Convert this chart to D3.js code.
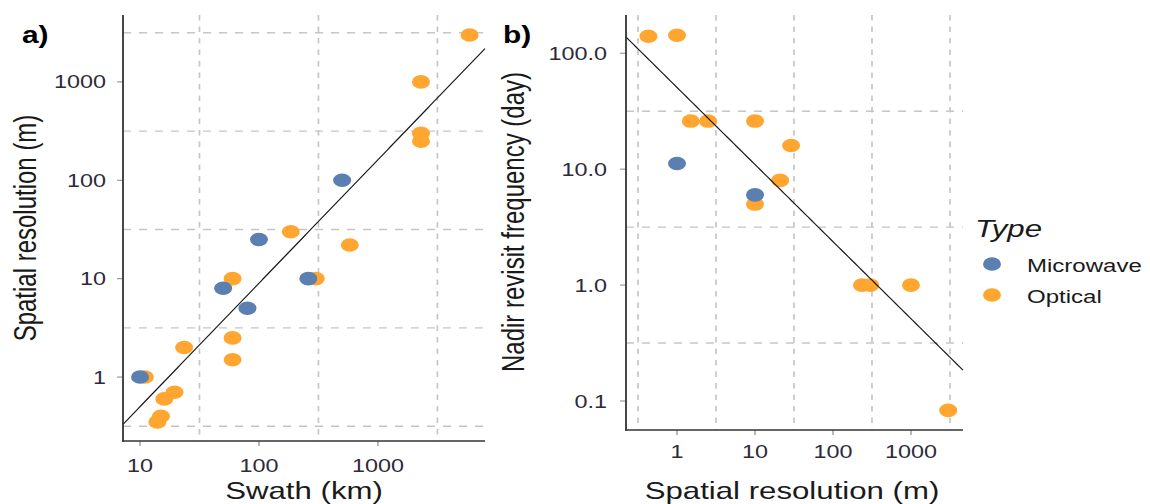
<!DOCTYPE html>
<html><head><meta charset="utf-8">
<script src="https://cdn.jsdelivr.net/npm/d3@7"></script>
<style>body{margin:0;background:#fff}svg{display:block}text{font-family:"Liberation Sans",Arial,sans-serif}</style>
</head><body><svg id="c" width="1150" height="504"></svg>
<script>
// ---- data ----
const types = ["Microwave", "Optical"];
const typeColors = ["#5a7fb0", "#ffa630"];
// panel a: swath (km) vs spatial resolution (m)
const swathA = [5900, 2300, 2300, 2300, 185, 580, 300, 60, 60, 60, 23.5, 11, 16, 19.5, 15, 14, 500, 100, 260, 50, 80, 10];
const resA   = [3000, 1000, 300, 250, 30, 22, 10, 10, 2.5, 1.5, 2, 1, 0.6, 0.7, 0.4, 0.35, 100, 25, 10, 8, 5, 1];
const typeA  = ["Optical","Optical","Optical","Optical","Optical","Optical","Optical","Optical","Optical","Optical","Optical","Optical","Optical","Optical","Optical","Optical","Microwave","Microwave","Microwave","Microwave","Microwave","Microwave"];
// panel b: spatial resolution (m) vs nadir revisit frequency (day)
const resB   = [0.43, 1, 1.5, 2.5, 10, 29, 21, 10, 235, 300, 1000, 3000, 1, 10];
const revB   = [140, 143, 26, 26, 26, 16, 8, 5, 1, 1, 1, 0.083, 11.2, 6];
const typeB  = ["Optical","Optical","Optical","Optical","Optical","Optical","Optical","Optical","Optical","Optical","Optical","Optical","Microwave","Microwave"];
// log-log fits: [intercept, slope]
const fitA = [-1.556, 1.255];
const fitB = [1.705, -0.665];
// tick labels
const xTicksA = [10, 100, 1000], xLabA = ["10", "100", "1000"];
const yTicksA = [1, 10, 100, 1000], yLabA = ["1", "10", "100", "1000"];
const xTicksB = [1, 10, 100, 1000], xLabB = ["1", "10", "100", "1000"];
const yTicksB = [0.1, 1, 10, 100], yLabB = ["0.1", "1.0", "10.0", "100.0"];

const SX = 1.3; // horizontal stretch of the original picture
const svg = d3.select("#c");
const color = d3.scaleOrdinal(types, typeColors);

function stext(g, x, y, str, opts) {
  const t = g.append("text")
    .attr("transform", `translate(${x},${y}) scale(${SX},1)` + (opts.rotate ? " rotate(-90)" : ""))
    .attr("text-anchor", opts.anchor || "start")
    .attr("font-size", opts.size)
    .attr("fill", opts.fill || "#1a1a1a")
    .text(str);
  if (opts.weight) t.attr("font-weight", opts.weight);
  if (opts.style) t.attr("font-style", opts.style);
  if (opts.dy) t.attr("dy", opts.dy);
  return t;
}

function panel(cfg) {
  const g = svg.append("g");
  const x = d3.scaleLog().domain(cfg.xdom).range([cfg.x0, cfg.x1]);
  const y = d3.scaleLog().domain(cfg.ydom).range([cfg.y1, cfg.y0]);
  // half-decade dashed grid
  const gx = d3.range(-2, 5).map(k => Math.pow(10, k + 0.5)).filter(v => v > cfg.xdom[0] && v < cfg.xdom[1]);
  const gy = d3.range(-2, 5).map(k => Math.pow(10, k + 0.5)).filter(v => v > cfg.ydom[0] && v < cfg.ydom[1]);
  g.selectAll(".gx").data(gx).join("line")
    .attr("x1", d => x(d)).attr("x2", d => x(d)).attr("y1", cfg.y0).attr("y2", cfg.y1)
    .attr("stroke", "#c6c6c6").attr("stroke-width", 1.7).attr("stroke-dasharray", "5.5,6");
  g.selectAll(".gy").data(gy).join("line")
    .attr("y1", d => y(d)).attr("y2", d => y(d)).attr("x1", cfg.x0).attr("x2", cfg.x1)
    .attr("stroke", "#c6c6c6").attr("stroke-width", 1.4).attr("stroke-dasharray", "8,8");
  // points: optical first, then microwave
  const pts = cfg.xs.map((v, i) => ({x: v, y: cfg.ys[i], t: cfg.ts[i]}));
  pts.sort((a, b) => (a.t === "Microwave") - (b.t === "Microwave"));
  g.selectAll(".pt").data(pts).join("ellipse")
    .attr("cx", d => x(d.x)).attr("cy", d => y(d.y))
    .attr("rx", 9).attr("ry", 6.8)
    .attr("fill", d => color(d.t));
  // fit line
  const lx = d3.range(0, 101).map(i => Math.pow(10, Math.log10(cfg.xdom[0]) + i / 100 * (Math.log10(cfg.xdom[1]) - Math.log10(cfg.xdom[0]))));
  const line = d3.line().x(d => x(d)).y(d => y(Math.pow(10, cfg.fit[0] + cfg.fit[1] * Math.log10(d))));
  g.append("path").datum(lx).attr("d", line).attr("fill", "none").attr("stroke", "#1a1a1a").attr("stroke-width", 1.2);
  // ticks
  g.selectAll(".tx").data(cfg.xt).join("line")
    .attr("x1", d => x(d)).attr("x2", d => x(d)).attr("y1", cfg.y1).attr("y2", cfg.y1 + 5)
    .attr("stroke", "#9a9a9a").attr("stroke-width", 1.4);
  g.selectAll(".ty").data(cfg.yt).join("line")
    .attr("y1", d => y(d)).attr("y2", d => y(d)).attr("x1", cfg.x0 - 6).attr("x2", cfg.x0)
    .attr("stroke", "#9a9a9a").attr("stroke-width", 1.2);
  // axes lines
  g.append("line").attr("x1", cfg.x0).attr("x2", cfg.x0).attr("y1", cfg.y0).attr("y2", cfg.y1 + 0.75)
    .attr("stroke", "#333").attr("stroke-width", 1.8);
  g.append("line").attr("x1", cfg.x0 - 0.9).attr("x2", cfg.x1).attr("y1", cfg.y1).attr("y2", cfg.y1)
    .attr("stroke", "#333").attr("stroke-width", 1.6);
  // tick labels
  cfg.xt.forEach((v, i) => stext(g, x(v), cfg.xlabY, cfg.xl[i], {anchor: "middle", size: 18, fill: "#2e2a3a"}));
  cfg.yt.forEach((v, i) => stext(g, cfg.ylabX, y(v), cfg.yl[i], {anchor: "end", size: 18, fill: "#2e2a3a", dy: "0.36em"}));
  // titles
  stext(g, cfg.xtitleX, 499, cfg.xtitle, {anchor: "middle", size: 24});
  stext(g, cfg.ytitleX, cfg.ytitleY, cfg.ytitle, {anchor: "middle", size: 24, rotate: true});
  stext(g, cfg.tagX, 43, cfg.tag, {anchor: "start", size: 23, weight: "bold", fill: "#000"});
}

panel({
  x0: 123, x1: 485, y0: 15, y1: 441,
  xdom: [Math.pow(10, 0.857), Math.pow(10, 3.9)], ydom: [Math.pow(10, -0.65), Math.pow(10, 3.68)],
  xs: swathA, ys: resA, ts: typeA, fit: fitA,
  xt: xTicksA, xl: xLabA, yt: yTicksA, yl: yLabA,
  xlabY: 472, ylabX: 106,
  xtitle: "Swath (km)", xtitleX: 304,
  ytitle: "Spatial resolution (m)", ytitleX: 36, ytitleY: 228,
  tag: "a)", tagX: 22
});
panel({
  x0: 626, x1: 963, y0: 15, y1: 430,
  xdom: [Math.pow(10, -0.654), Math.pow(10, 3.667)], ydom: [Math.pow(10, -1.25), Math.pow(10, 2.33)],
  xs: resB, ys: revB, ts: typeB, fit: fitB,
  xt: xTicksB, xl: xLabB, yt: yTicksB, yl: yLabB,
  xlabY: 458, ylabX: 607,
  xtitle: "Spatial resolution (m)", xtitleX: 792,
  ytitle: "Nadir revisit frequency (day)", ytitleX: 524, ytitleY: 222,
  tag: "b)", tagX: 503
});

// legend
const leg = svg.append("g");
stext(leg, 975, 237, "Type", {size: 24, style: "italic"});
types.forEach((t, i) => {
  leg.append("ellipse").attr("cx", 992).attr("cy", 264 + i * 31).attr("rx", 9).attr("ry", 6.8).attr("fill", color(t));
  stext(leg, 1027, 265 + i * 31, t, {size: 18.5, dy: "0.36em"});
});
</script></body></html>
